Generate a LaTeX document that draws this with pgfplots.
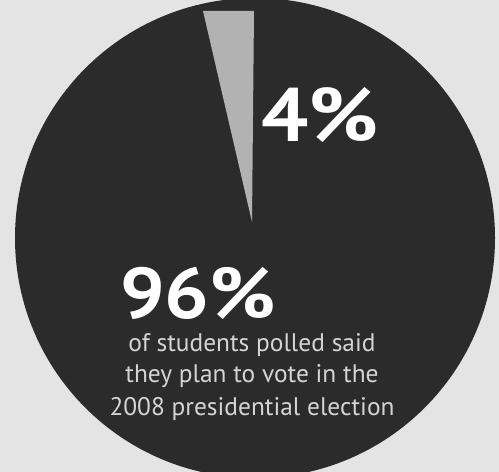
\documentclass[border=0pt]{standalone}
\usepackage{pgfplots}
\pgfplotsset{compat=1.18}
\usepackage{fontspec}
\setmainfont{PT Sans}
\definecolor{bg}{HTML}{E4E4E4}
\definecolor{dark}{HTML}{2B2B2B}
\definecolor{wedge}{HTML}{B2B2B2}
\definecolor{txt}{HTML}{D4D4D4}
\begin{document}
\begin{tikzpicture}
\begin{axis}[
  scale only axis, width=499bp, height=472bp,
  xmin=0, xmax=499, ymin=0, ymax=472,
  hide axis, clip=true,
  axis background/.style={fill=bg},
]
% 96% slice: the whole dark disc
\fill[dark] (axis cs:255,234) circle[radius=240];
% 4% slice
\addplot[fill=wedge, draw=none] coordinates {(252,250) (203,461) (254,461)} -- cycle;
\node[anchor=base west, text=white, font=\bfseries\fontsize{76}{76}\selectfont, inner sep=0pt] at (axis cs:261,330) {\scalebox{1.1}[1]{4\%}};
\node[anchor=base west, text=white, font=\bfseries\fontsize{72}{72}\selectfont, inner sep=0pt] at (axis cs:120,153) {\scalebox{1.1}[1]{96\%}};
\node[anchor=base, text=txt, font=\fontsize{25.5}{32}\selectfont, inner sep=0pt] at (axis cs:252,120) {of students polled said};
\node[anchor=base, text=txt, font=\fontsize{25.5}{32}\selectfont, inner sep=0pt] at (axis cs:252,89) {they plan to vote in the};
\node[anchor=base, text=txt, font=\fontsize{25.5}{32}\selectfont, inner sep=0pt] at (axis cs:252,56) {2008 presidential election};
\end{axis}
\end{tikzpicture}
\end{document}
